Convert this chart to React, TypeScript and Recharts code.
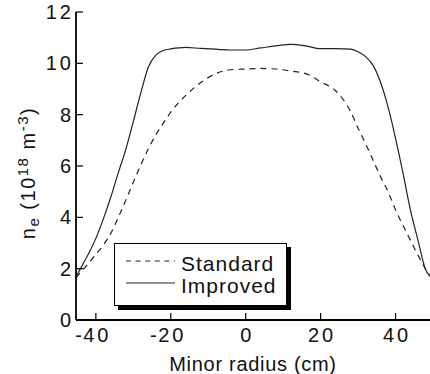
import { Legend, Line, LineChart, XAxis, YAxis } from "recharts";

const radius = [
  -45.3, -44, -42, -40, -38, -36, -34, -32, -30, -28, -26, -24, -22, -20, -16,
  -12, -8, -4, 0, 4, 8, 12, 16, 20, 24, 28, 30, 32, 34, 36, 38, 40, 42, 44, 46,
  48, 49.2,
];

const standard = [
  1.65, 1.87, 2.2, 2.56, 2.92, 3.38, 4.0, 4.67, 5.37, 6.04, 6.67, 7.21, 7.67,
  8.1, 8.75, 9.25, 9.6, 9.75, 9.78, 9.8, 9.78, 9.7, 9.6, 9.28, 8.93, 8.12, 7.47,
  6.87, 6.23, 5.58, 5.0, 4.29, 3.68, 3.1, 2.52, 1.99, 1.72,
];

const improved = [
  1.69, 2.03, 2.57, 3.18, 3.94, 4.79, 5.74, 6.65, 7.73, 8.85, 9.85, 10.32,
  10.5, 10.56, 10.62, 10.58, 10.55, 10.52, 10.52, 10.6, 10.68, 10.74, 10.68,
  10.57, 10.57, 10.55, 10.45, 10.26, 9.92, 9.26, 8.3, 7.08, 5.72, 4.27, 3.1,
  1.97, 1.7,
];

const seriesNames = ["Standard", "Improved"];
const xTicks = [-40, -20, 0, 20, 40];
const yTicks = [0, 2, 4, 6, 8, 10, 12];

const data = radius.map((r, i) => ({
  r,
  standard: standard[i],
  improved: improved[i],
}));

const font = "'Liberation Sans', Arial, Helvetica, sans-serif";
const ink = "#111";

function XTick(props: any) {
  const { x, y, payload } = props;
  const v = payload.value as number;
  const digits = String(Math.abs(v));
  return (
    <g>
      <text
        x={x + 1.5}
        y={y + 29}
        textAnchor="middle"
        fill={ink}
        fontSize={20}
        fontFamily={font}
        letterSpacing={3}
      >
        {digits}
      </text>
      {v < 0 && (
        <text
          x={x - 14}
          y={y + 29}
          textAnchor="end"
          fill={ink}
          fontSize={20}
          fontFamily={font}
        >
          -
        </text>
      )}
    </g>
  );
}

function YTitle(props: any) {
  const vb = props.viewBox;
  const cx = vb.x + 35;
  const cy = vb.y + vb.height / 2 + 7;
  return (
    <text
      x={cx}
      y={cy}
      transform={`rotate(-90, ${cx}, ${cy})`}
      textAnchor="middle"
      fill={ink}
      fontSize={20}
      fontFamily={font}
      letterSpacing={1.5}
    >
      <tspan>n</tspan>
      <tspan dy={4} fontSize={15}>e</tspan>
      <tspan dy={-4}> (10</tspan>
      <tspan dy={-7} fontSize={15}>18</tspan>
      <tspan dy={7}> m</tspan>
      <tspan dy={-7} fontSize={15}>-3</tspan>
      <tspan dy={7}>)</tspan>
    </text>
  );
}

function XTitle(props: any) {
  const vb = props.viewBox;
  return (
    <text
      x={vb.x + vb.width / 2}
      y={vb.y + 51}
      textAnchor="middle"
      fill={ink}
      fontSize={20}
      fontFamily={font}
      letterSpacing={0.7}
    >
      Minor radius (cm)
    </text>
  );
}

function LegendBox(props: any) {
  const items = [...(props.payload || [])].sort(
    (a: any, b: any) => seriesNames.indexOf(a.value) - seriesNames.indexOf(b.value)
  );
  return (
    <div
      style={{
        width: 173,
        height: 63,
        boxSizing: "border-box",
        border: "1.5px solid #000",
        boxShadow: "4px 4px 0 #000",
        background: "#fff",
      }}
    >
      <svg width={170} height={60} style={{ display: "block" }}>
        {items.map((it: any, i: number) => {
          const y = 17 + i * 22;
          return (
            <g key={it.value}>
              <line
                x1={11}
                x2={60}
                y1={y}
                y2={y}
                stroke="#222"
                strokeWidth={1}
                strokeDasharray={it.payload?.strokeDasharray ? "5 4.6" : undefined}
              />
              <text
                x={66}
                y={y + 9.5}
                fill={ink}
                fontSize={21}
                fontFamily={font}
                letterSpacing={1}
              >
                {it.value}
              </text>
            </g>
          );
        })}
      </svg>
    </div>
  );
}

export default function App() {
  return (
    <div
      style={{
        position: "fixed",
        left: 0,
        top: 0,
        width: 430,
        height: 374,
        overflow: "hidden",
        background: "#fff",
      }}
    >
      <LineChart
        width={432}
        height={374}
        data={data}
        margin={{ top: 12, right: 2, bottom: 0, left: 0 }}
      >
        <XAxis
          dataKey="r"
          type="number"
          domain={[-45.3, 49.2]}
          allowDataOverflow
          ticks={xTicks}
          height={54}
          tickSize={-7}
          tickMargin={0}
          axisLine={{ stroke: "#000", strokeWidth: 2 }}
          tickLine={{ stroke: "#000", strokeWidth: 1.2 }}
          tick={<XTick />}
          label={<XTitle />}
        />
        <XAxis
          xAxisId="top"
          orientation="top"
          dataKey="r"
          type="number"
          domain={[-45.3, 49.2]}
          allowDataOverflow
          ticks={xTicks}
          height={0}
          tickSize={-8}
          axisLine={{ stroke: "#000", strokeWidth: 2.2 }}
          tickLine={{ stroke: "#000", strokeWidth: 1.2 }}
          tickFormatter={() => ""}
        />
        <YAxis
          type="number"
          domain={[0, 12]}
          ticks={yTicks}
          width={76}
          tickSize={-7}
          tickMargin={9}
          axisLine={{ stroke: "#000", strokeWidth: 1.8 }}
          tickLine={{ stroke: "#000", strokeWidth: 1.2 }}
          tick={{ fill: ink, fontSize: 20, fontFamily: font, letterSpacing: 3 }}
          label={<YTitle />}
        />
        <YAxis
          yAxisId="right"
          orientation="right"
          type="number"
          domain={[0, 12]}
          ticks={yTicks}
          width={0}
          tickSize={-6}
          axisLine={{ stroke: "#000", strokeWidth: 2 }}
          tickLine={{ stroke: "#000", strokeWidth: 1.2 }}
          tickFormatter={() => ""}
        />
        <Line
          name="Standard"
          dataKey="standard"
          type="monotone"
          stroke="#222"
          strokeWidth={1.2}
          strokeDasharray="6 5"
          dot={false}
          activeDot={false}
          isAnimationActive={false}
        />
        <Line
          name="Improved"
          dataKey="improved"
          type="monotone"
          stroke="#222"
          strokeWidth={1.2}
          dot={false}
          activeDot={false}
          isAnimationActive={false}
        />
        <Legend
          layout="vertical"
          verticalAlign="middle"
          align="center"
          content={<LegendBox />}
          wrapperStyle={{ position: "absolute", left: 114, top: 243, width: 180 }}
        />
      </LineChart>
    </div>
  );
}
